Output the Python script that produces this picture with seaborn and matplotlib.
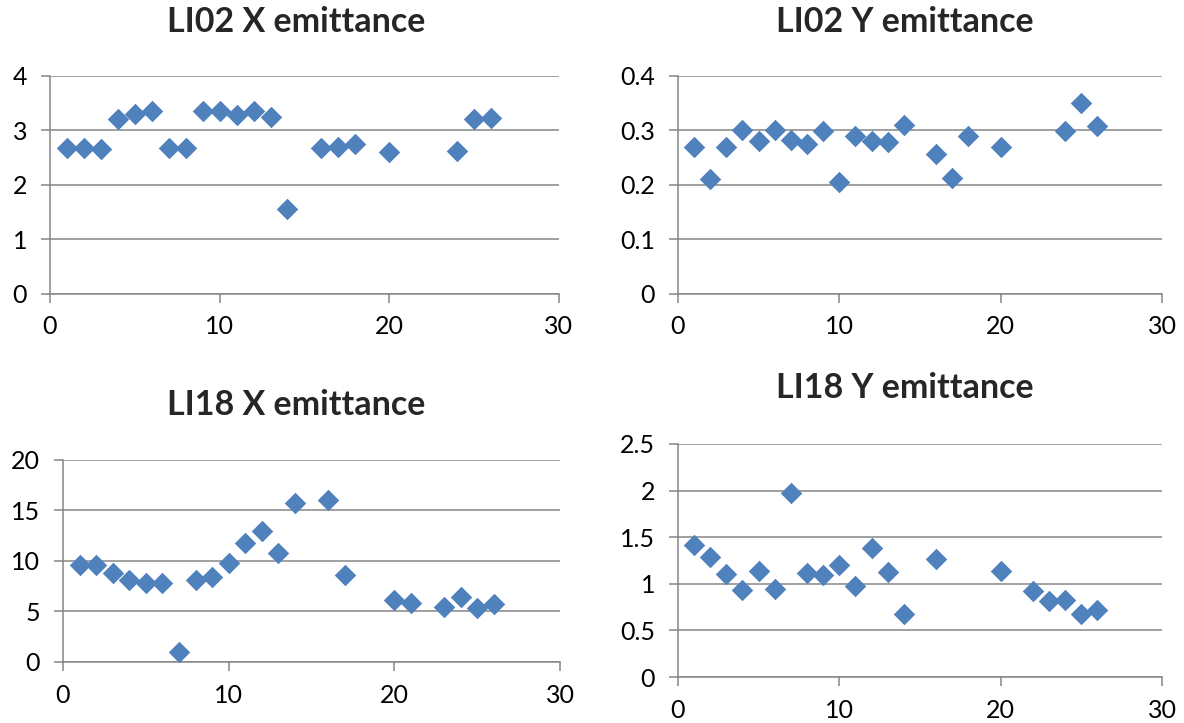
import pandas as pd
import seaborn as sns
import matplotlib.pyplot as plt
from matplotlib.ticker import MultipleLocator, FuncFormatter

li02_x_idx = [1, 2, 3, 4, 5, 6, 7, 8, 9, 10, 11, 12, 13, 14, 16, 17, 18, 20, 24, 25, 26]
li02_x_val = [2.67, 2.68, 2.65, 3.2, 3.3, 3.36, 2.67, 2.67, 3.35, 3.35, 3.28,
              3.35, 3.25, 1.55, 2.68, 2.7, 2.75, 2.6, 2.62, 3.2, 3.23]

li02_y_idx = [1, 2, 3, 4, 5, 6, 7, 8, 9, 10, 11, 12, 13, 14, 16, 17, 18, 20, 24, 25, 26]
li02_y_val = [0.27, 0.21, 0.27, 0.30, 0.28, 0.30, 0.282, 0.275, 0.298, 0.205, 0.289,
              0.28, 0.279, 0.309, 0.256, 0.212, 0.29, 0.27, 0.299, 0.35, 0.308]

li18_x_idx = [1, 2, 3, 4, 5, 6, 7, 8, 9, 10, 11, 12, 13, 14, 16, 17, 20, 21, 23, 24, 25, 26]
li18_x_val = [9.6, 9.6, 8.8, 8.1, 7.8, 7.8, 1.0, 8.1, 8.4, 9.8, 11.8,
              13.0, 10.8, 15.7, 16.0, 8.6, 6.1, 5.8, 5.4, 6.4, 5.3, 5.7]

li18_y_idx = [1, 2, 3, 4, 5, 6, 7, 8, 9, 10, 11, 12, 13, 14, 16, 20, 22, 23, 24, 25, 26]
li18_y_val = [1.42, 1.29, 1.10, 0.93, 1.14, 0.94, 1.97, 1.12, 1.09, 1.20, 0.98,
              1.38, 1.13, 0.68, 1.27, 1.14, 0.92, 0.82, 0.83, 0.68, 0.72]

titles = ["LI02 X emittance", "LI02 Y emittance", "LI18 X emittance", "LI18 Y emittance"]
y_max = [4, 0.4, 20, 2.5]
y_step = [1, 0.1, 5, 0.5]

sns.set_style("white")
plt.rcParams['font.family'] = ['Lato', 'DejaVu Sans']

blue = '#4F81BD'
grid_gray = '#868686'

fig = plt.figure(figsize=(11.84, 7.23), dpi=100)

# axes rectangles (figure fraction) and title centres, measured on the reference
layout = [
    ([0.0422, 0.5934, 0.4299, 0.3019], (296 / 1184, 1 - 22 / 723)),
    ([0.5726, 0.5934, 0.4088, 0.3019], (905 / 1184, 1 - 22 / 723)),
    ([0.0532, 0.0844, 0.4198, 0.2794], (296 / 1184, 1 - 405 / 723)),
    ([0.5726, 0.0636, 0.4088, 0.3223], (905 / 1184, 1 - 388 / 723)),
]
series = [(li02_x_idx, li02_x_val), (li02_y_idx, li02_y_val),
          (li18_x_idx, li18_x_val), (li18_y_idx, li18_y_val)]

for i, (rect, tpos) in enumerate(layout):
    ax = fig.add_axes(rect)
    idx, val = series[i]
    df = pd.DataFrame({'index': idx, 'emittance': val})
    sns.scatterplot(data=df, x='index', y='emittance', marker='D', s=120,
                    color=blue, linewidth=0, ax=ax, zorder=3, clip_on=False)

    ax.set_xlim(0, 30)
    ax.set_ylim(0, y_max[i])
    ax.xaxis.set_major_locator(MultipleLocator(10))
    ax.yaxis.set_major_locator(MultipleLocator(y_step[i]))
    ax.yaxis.set_major_formatter(FuncFormatter(lambda v, p: f"{v:g}"))
    ax.set_xlabel('')
    ax.set_ylabel('')

    ax.grid(axis='y', color=grid_gray, linewidth=1.1)
    ax.set_axisbelow(True)
    for side in ['top', 'right']:
        ax.spines[side].set_visible(False)
    for side in ['left', 'bottom']:
        ax.spines[side].set_color(grid_gray)
        ax.spines[side].set_linewidth(1.1)

    ax.tick_params(axis='both', which='major', direction='out', length=6.5,
                   width=1.1, color=grid_gray, labelsize=18, labelcolor='black')
    ax.tick_params(axis='x', pad=9, bottom=True)
    ax.tick_params(axis='y', pad=10, left=True)

    fig.text(tpos[0], tpos[1], titles[i], ha='center', va='center',
             fontsize=24.5, fontweight='bold')

plt.savefig('out.png', dpi=100)
